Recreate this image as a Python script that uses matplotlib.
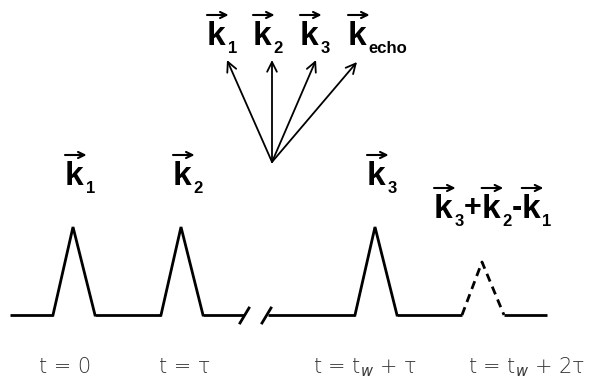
import matplotlib.pyplot as plt

# Pulse sequence: centre position, height, style of each pulse
pulse_x = [73, 181, 375, 482]
pulse_top = [227, 227, 227, 262]
pulse_style = ["-", "-", "-", "--"]
baseline_y = 315
half_left, half_right = 20, 22

# Wave-vector labels above each pulse
pulse_labels = [["1"], ["2"], ["3"], ["3", "+", "2", "-", "1"]]

# Fan of wave vectors
fan_origin = (272, 162)
fan_tips = [(227, 60), (272, 60), (316, 60), (357, 62)]
fan_subs = ["1", "2", "3", "echo"]
fan_label_x = [207, 253, 300, 348]

# Times under the pulses
time_labels = [r"t = 0", r"t = τ", r"t = t$_{w}$ + τ", r"t = t$_{w}$ + 2τ"]
time_x = [65, 185, 365, 527]

BOLD = dict(family=["Liberation Sans", "DejaVu Sans"], weight="bold", color="black")

fig = plt.figure(figsize=(6.01, 3.79), dpi=100)
ax = fig.add_axes([0, 0, 1, 1])
ax.set_xlim(0, 601)
ax.set_ylim(379, 0)
ax.axis("off")
renderer = fig.canvas.get_renderer()

lw = 2.0

# baseline segments (with a break between the second and third pulses)
xs = [10] + [p for x in pulse_x for p in (x - half_left, x + half_right)] + [547]
segments = [(xs[0], xs[1]), (xs[2], xs[3]), (xs[4], 244), (268, xs[5]),
            (xs[6], xs[7]), (xs[8], xs[9])]
for a, b in segments:
    ax.plot([a, b], [baseline_y, baseline_y], color="black", lw=lw,
            solid_capstyle="butt")

# the break mark
for x0 in (240, 262):
    ax.plot([x0, x0 + 9], [323, 308], color="black", lw=lw)

# triangular pulses
for x, top, ls in zip(pulse_x, pulse_top, pulse_style):
    ax.plot([x - half_left, x, x + half_right], [baseline_y, top, baseline_y],
            color="black", lw=lw, ls=ls, dashes=(3, 2) if ls == "--" else (None, None),
            solid_joinstyle="miter")


def text_right(t):
    return t.get_window_extent(renderer).x1


def vec_k(x, y, sub, size=24, subsize=12):
    """Bold k with an arrow on top and a subscript; (x, y) is the left baseline.
    Returns the x where the next piece of text can start."""
    k = ax.text(x, y, "k", fontsize=size, ha="left", va="baseline", **BOLD)
    kx1 = text_right(k)
    ax.annotate("", xy=(kx1 + 3, y - 30), xytext=(x, y - 30),
                arrowprops=dict(arrowstyle="->,head_length=0.45,head_width=0.22",
                                lw=1.5, color="black", shrinkA=0, shrinkB=0))
    s = ax.text(kx1 + 2, y + 8, sub, fontsize=subsize, ha="left", va="baseline", **BOLD)
    return text_right(s)


# labels above the pulses
for x, subs in zip(pulse_x, pulse_labels):
    if len(subs) == 1:
        vec_k(x - 8, 185, subs[0])
    else:
        cx = 434
        for s in subs:
            if s in "+-":
                t = ax.text(cx, 216, s, fontsize=22, ha="left", va="baseline", **BOLD)
                cx = text_right(t)
            else:
                cx = vec_k(cx, 218, s)

# fan of wave vectors
for (tx, ty) in fan_tips:
    ax.annotate("", xy=(tx, ty), xytext=fan_origin,
                arrowprops=dict(arrowstyle="->,head_length=0.7,head_width=0.35",
                                lw=1.3, color="black", shrinkA=0, shrinkB=0))
for lx, s in zip(fan_label_x, fan_subs):
    vec_k(lx, 45, s)

# time labels
for x, s in zip(time_x, time_labels):
    ax.text(x, 373, s, fontsize=15, ha="center", va="baseline", color="#333333",
            family=["DejaVu Sans"], weight="light")

fig.savefig("out.png", dpi=100)
